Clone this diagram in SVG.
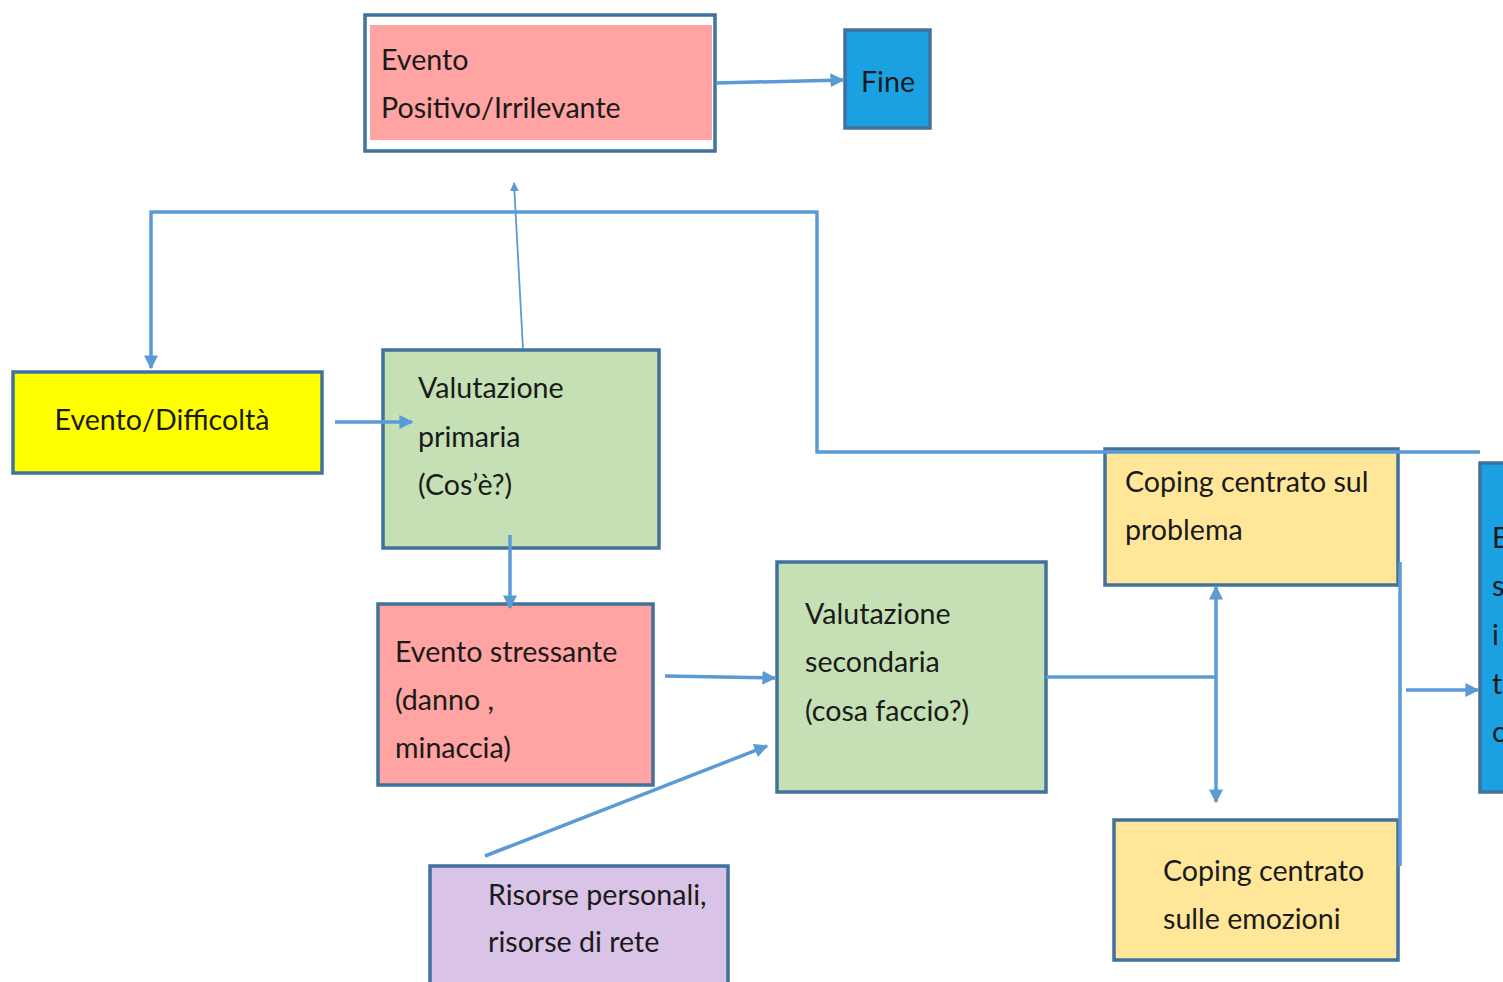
<svg xmlns="http://www.w3.org/2000/svg" width="1503" height="982" viewBox="0 0 1503 982">
<defs>
<style>
.box{stroke:#41719c;stroke-width:3.5}
.pink{fill:#ffa3a3}
.green{fill:#c5e0b4}
.yellow{fill:#ffff00}
.amber{fill:#ffe699}
.blue{fill:#1ba1e2}
.purple{fill:#d9c3e6}
.t{font-family:Lato,"Liberation Sans",sans-serif;font-size:28.6px;fill:#1a1a1a}
.c{stroke:#5b9bd5;stroke-width:3.5;fill:none}
.thin{stroke:#5b9bd5;stroke-width:1.8;fill:none}
</style>
<marker id="ah" viewBox="0 0 10 10" refX="9" refY="5" markerWidth="4" markerHeight="4" orient="auto" markerUnits="strokeWidth">
<path d="M0,0 L10,5 L0,10 z" fill="#5b9bd5"/>
</marker>
<marker id="ahs" viewBox="0 0 10 10" refX="9" refY="5" markerWidth="5" markerHeight="5" orient="auto" markerUnits="strokeWidth">
<path d="M0,0 L10,5 L0,10 z" fill="#5b9bd5"/>
</marker>
</defs>
<rect width="1503" height="982" fill="#ffffff"/>

<g id="evento-positivo">
<rect x="365" y="15" width="350" height="136" fill="#ffffff" class="box"/>
<rect x="370" y="25" width="342" height="115" class="pink"/>
<text class="t" x="381" y="70">Evento</text>
<text class="t" x="381" y="118">Positivo/Irrilevante</text>
</g>

<g id="fine">
<rect x="845" y="30" width="85" height="98" class="box blue"/>
<text class="t" x="888" y="92" text-anchor="middle">Fine</text>
</g>

<g id="evento-difficolta">
<rect x="13" y="372" width="309" height="101" class="box yellow"/>
<text class="t" x="162" y="430" text-anchor="middle">Evento/Difficoltà</text>
</g>

<g id="valutazione-primaria">
<rect x="383" y="350" width="276" height="198" class="box green"/>
<text class="t" x="418" y="398">Valutazione</text>
<text class="t" x="418" y="447">primaria</text>
<text class="t" x="418" y="495">(Cos’è?)</text>
</g>

<g id="evento-stressante">
<rect x="378" y="604" width="275" height="181" class="box pink"/>
<text class="t" x="395" y="662">Evento stressante</text>
<text class="t" x="395" y="710">(danno ,</text>
<text class="t" x="395" y="758">minaccia)</text>
</g>

<g id="valutazione-secondaria">
<rect x="777" y="562" width="269" height="230" class="box green"/>
<text class="t" x="805" y="624">Valutazione</text>
<text class="t" x="805" y="672">secondaria</text>
<text class="t" x="805" y="721">(cosa faccio?)</text>
</g>

<g id="risorse">
<rect x="430" y="866" width="298" height="130" class="box purple"/>
<text class="t" x="488" y="905">Risorse personali,</text>
<text class="t" x="488" y="952">risorse di rete</text>
</g>

<g id="coping-problema">
<rect x="1105" y="449" width="293" height="136" class="box amber"/>
<text class="t" x="1125" y="492">Coping centrato sul</text>
<text class="t" x="1125" y="540">problema</text>
</g>

<g id="coping-emozioni">
<rect x="1114" y="820" width="284" height="140" class="box amber"/>
<text class="t" x="1163" y="881">Coping centrato</text>
<text class="t" x="1163" y="929">sulle emozioni</text>
</g>

<g id="esito">
<rect x="1480" y="463" width="40" height="329" class="box blue"/>
<text class="t" x="1492" y="548">E</text>
<text class="t" x="1492" y="596">s</text>
<text class="t" x="1492" y="645">i</text>
<text class="t" x="1492" y="694">t</text>
<text class="t" x="1492" y="742">c</text>
</g>

<g id="connectors">
<line class="c" x1="716" y1="83" x2="843" y2="80" marker-end="url(#ah)"/>
<line class="thin" x1="523" y1="349" x2="514" y2="183" marker-end="url(#ahs)"/>
<polyline class="c" points="1480,452 817,452 817,212 151,212 151,368" marker-end="url(#ah)"/>
<line class="c" x1="335" y1="422" x2="412" y2="422" marker-end="url(#ah)"/>
<line class="c" x1="510" y1="535" x2="510" y2="608" marker-end="url(#ah)"/>
<line class="c" x1="665" y1="676" x2="775" y2="678" marker-end="url(#ah)"/>
<line class="c" x1="485" y1="856" x2="767" y2="746" marker-end="url(#ah)"/>
<line class="c" x1="1046" y1="677" x2="1215" y2="677"/>
<line class="c" x1="1216" y1="677" x2="1216" y2="587" marker-end="url(#ah)"/>
<line class="c" x1="1216" y1="677" x2="1216" y2="802" marker-end="url(#ah)"/>
<line class="c" x1="1400" y1="562" x2="1400" y2="866"/>
<line class="c" x1="1406" y1="690" x2="1478" y2="690" marker-end="url(#ah)"/>
</g>
</svg>
